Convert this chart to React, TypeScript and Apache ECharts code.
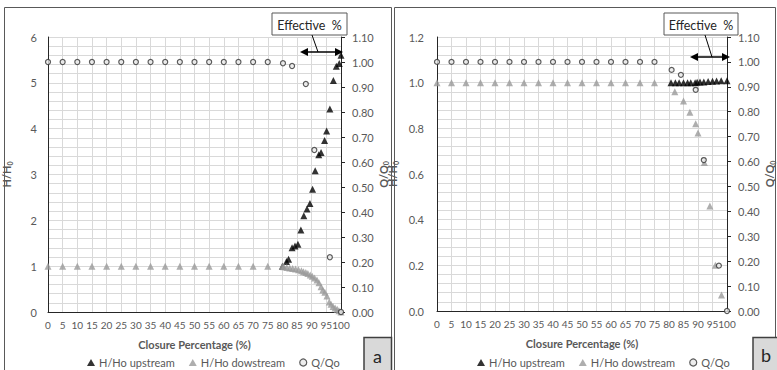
import React, { useEffect, useRef } from "react";
import * as echarts from "echarts";

// Shared fully-open closure values (0..75 %)
const baseClosure = [0, 5, 10, 15, 20, 25, 30, 35, 40, 45, 50, 55, 60, 65, 70, 75];
const baseOne = [1, 1, 1, 1, 1, 1, 1, 1, 1, 1, 1, 1, 1, 1, 1, 1];

// Panel a
const aUpX = [80, 81.4, 82.1, 83.3, 84.3, 85.3, 86.3, 87.3, 88.4, 89.4, 90.3, 91.2, 92.4, 93.2, 94.4, 95.1, 96.2, 97.4, 98.4, 99.4, 100];
const aUpY = [1.0, 1.1, 1.15, 1.4, 1.44, 1.48, 1.79, 2.1, 2.25, 2.37, 2.68, 3.08, 3.43, 3.48, 3.74, 3.95, 4.43, 5.05, 5.36, 5.42, 5.6];
const aDownX = [80, 80.5, 81.5, 82.5, 83.5, 84.5, 85.5, 86.5, 87.2, 88, 88.7, 89.5, 90.2, 91, 91.8, 92.5, 93.2, 93.8, 94.5, 95.2, 96, 96.6, 97.3, 98, 98.7, 99.3, 100];
const aDownY = [1.0, 0.99, 0.97, 0.96, 0.95, 0.94, 0.92, 0.9, 0.88, 0.86, 0.84, 0.81, 0.78, 0.74, 0.7, 0.64, 0.55, 0.48, 0.43, 0.35, 0.22, 0.17, 0.12, 0.09, 0.06, 0.03, 0.0];
const aQX = [80.2, 83.3, 88.0, 90.9, 96.2, 100];
const aQY = [0.995, 0.984, 0.912, 0.648, 0.219, 0.0];

// Panel b
const bUpX = [80.7, 82.2, 83.5, 85, 86.4, 87.5, 89, 89.7, 90.7, 92, 93.5, 95, 96.4, 98, 100];
const bUpY = [1.0, 1.0, 1.0, 1.0, 1.0, 1.0, 1.0, 1.002, 1.003, 1.003, 1.005, 1.006, 1.007, 1.008, 1.008];
const bDownX = [82, 85, 87.2, 89.2, 90, 92.2, 94.1, 96, 98.1];
const bDownY = [0.96, 0.92, 0.87, 0.82, 0.78, 0.65, 0.46, 0.2, 0.07];
const bQX = [80.9, 84.1, 89.2, 92, 97.2, 100];
const bQY = [0.968, 0.948, 0.888, 0.606, 0.182, 0.0];

const seriesNames = ["H/Ho upstream", "H/Ho dowstream", "Q/Qo"];
const FONT = "Lato, 'Liberation Sans', sans-serif";
const TXT = "#595959";
const GRIDC = "#d9d9d9";
const AXC = "#262626";

const zip = (xs: number[], ys: number[]) => xs.map((x, i) => [x, ys[i]]);

export default function App() {
  const ref = useRef<HTMLDivElement>(null);
  useEffect(() => {
    if (!ref.current) return;
    const chart = echarts.init(ref.current, undefined, { renderer: "svg" });

    const xAxisBase = (gridIndex: number) => ({
      type: "value",
      gridIndex,
      min: 0,
      max: 100,
      interval: 5,
      name: "Closure Percentage (%)",
      nameLocation: "middle",
      nameGap: 27,
      nameTextStyle: { fontFamily: FONT, fontSize: 11, fontWeight: "bold", color: TXT },
      axisLine: { show: true, lineStyle: { color: AXC, width: 1 } },
      axisTick: { show: false },
      axisLabel: { fontFamily: FONT, fontSize: 10, color: TXT, margin: 8, showMaxLabel: true, showMinLabel: true },
      splitLine: { show: true, lineStyle: { color: GRIDC, width: 1 } },
    });

    const nameRich = {
      m: { fontFamily: FONT, fontSize: 11, fontWeight: "bold", color: TXT },
      s: { fontFamily: FONT, fontSize: 7, fontWeight: "bold", color: TXT, padding: [6, 0, 0, 0] },
    };

    const leftAxis = (gridIndex: number, max: number, interval: number, dec: number, gap: number, margin: number) => ({
      type: "value",
      gridIndex,
      position: "left",
      min: 0,
      max,
      interval,
      name: "{m|H/H}{s|0}",
      nameLocation: "middle",
      nameRotate: 90,
      nameGap: gap,
      nameTextStyle: { rich: nameRich },
      axisLine: { show: true, lineStyle: { color: AXC, width: 1 } },
      axisTick: { show: false },
      axisLabel: {
        fontFamily: FONT,
        fontSize: 11,
        color: TXT,
        margin,
        formatter: (v: number) => v.toFixed(dec),
      },
      splitLine: { show: true, lineStyle: { color: GRIDC, width: 1 } },
      minorTick: { show: false, splitNumber: 5 },
      minorSplitLine: { show: true, lineStyle: { color: GRIDC, width: 1 } },
    });

    const rightAxis = (gridIndex: number, gap: number) => ({
      type: "value",
      gridIndex,
      position: "right",
      min: 0,
      max: 1.1,
      interval: 0.1,
      name: "{m|Q/Q}{s|0}",
      nameLocation: "middle",
      nameRotate: 90,
      nameGap: gap,
      nameTextStyle: { rich: nameRich },
      axisLine: { show: true, lineStyle: { color: AXC, width: 1 } },
      axisTick: { show: true, length: 4, inside: false, lineStyle: { color: AXC } },
      axisLabel: {
        fontFamily: FONT,
        fontSize: 11,
        color: TXT,
        margin: 11,
        formatter: (v: number) => v.toFixed(2),
      },
      splitLine: { show: false },
    });

    const up = (xi: number, yi: number, data: number[][]) => ({
      name: seriesNames[0],
      type: "scatter",
      xAxisIndex: xi,
      yAxisIndex: yi,
      symbol: "triangle",
      symbolSize: 7,
      itemStyle: { color: "#000000" },
      data,
    });
    const down = (xi: number, yi: number, data: number[][]) => ({
      name: seriesNames[1],
      type: "scatter",
      xAxisIndex: xi,
      yAxisIndex: yi,
      symbol: "triangle",
      symbolSize: 7,
      itemStyle: { color: "#9a9a9a" },
      data,
    });
    const q = (xi: number, yi: number, data: number[][]) => ({
      name: seriesNames[2],
      type: "scatter",
      xAxisIndex: xi,
      yAxisIndex: yi,
      symbol: "circle",
      symbolSize: 5,
      itemStyle: { color: "#e8e8e8", borderColor: "#333333", borderWidth: 1.2 },
      data,
    });

    const legendBase = (left: number) => ({
      left,
      top: 352,
      itemWidth: 8,
      itemHeight: 7,
      itemGap: 14,
      textStyle: { fontFamily: FONT, fontSize: 11, color: TXT, padding: [0, 0, 0, -1] },
      data: [
        { name: seriesNames[0], icon: "triangle", itemStyle: { color: "#000000" } },
        { name: seriesNames[1], icon: "triangle", itemStyle: { color: "#9a9a9a" } },
        { name: seriesNames[2], icon: "circle", itemStyle: { color: "#e8e8e8", borderColor: "#333333", borderWidth: 1.2 } },
      ],
      selectedMode: false,
    });

    const textStyle = (size: number) => ({ fontFamily: FONT, fontSize: size, fill: "#262626" });

    const effective = (bx: number, by: number, bw: number, bh: number, c1: number[], c2: number[], ax1: number, ax2: number, ay: number) => [
      { type: "rect", shape: { x: bx, y: by, width: bw, height: bh }, style: { fill: "#ffffff", stroke: "#595959", lineWidth: 1 }, z: 100 },
      { type: "text", x: bx + bw / 2, y: by + bh / 2 + 1, style: { text: "Effective  %", align: "center", verticalAlign: "middle", ...textStyle(12.5) }, z: 101 },
      { type: "line", shape: { x1: c1[0], y1: c1[1], x2: c2[0], y2: c2[1] }, style: { stroke: "#000000", lineWidth: 1 }, z: 100 },
      { type: "line", shape: { x1: ax1 + 5, y1: ay, x2: ax2 - 5, y2: ay }, style: { stroke: "#000000", lineWidth: 1.5 }, z: 100 },
      { type: "polygon", shape: { points: [[ax1, ay], [ax1 + 8, ay - 4], [ax1 + 8, ay + 4]] }, style: { fill: "#000000" }, z: 100 },
      { type: "polygon", shape: { points: [[ax2, ay], [ax2 - 8, ay - 4], [ax2 - 8, ay + 4]] }, style: { fill: "#000000" }, z: 100 },
    ];

    const option = {
      animation: false,
      backgroundColor: "#ffffff",
      grid: [
        { left: 48, top: 37, width: 293, height: 275 },
        { left: 437, top: 37, width: 293, height: 274 },
      ],
      xAxis: [xAxisBase(0), xAxisBase(1)],
      yAxis: [
        leftAxis(0, 6, 1, 0, 35, 11),
        rightAxis(0, 33),
        leftAxis(1, 1.2, 0.2, 1, 38, 13),
        rightAxis(1, 36),
      ],
      legend: [legendBase(82), legendBase(472)],
      series: [
        up(0, 0, zip(aUpX, aUpY)),
        down(0, 0, zip(baseClosure, baseOne).concat(zip(aDownX, aDownY))),
        q(0, 1, zip(baseClosure, baseOne).concat(zip(aQX, aQY))),
        up(1, 2, zip(bUpX, bUpY)),
        down(1, 2, zip(baseClosure, baseOne).concat(zip(bDownX, bDownY))),
        q(1, 3, zip(baseClosure, baseOne).concat(zip(bQX, bQY))),
      ],
      graphic: [
        { type: "rect", shape: { x: 4.5, y: 7.5, width: 387, height: 372 }, style: { fill: "none", stroke: "#595959", lineWidth: 1 }, z: 90 },
        { type: "rect", shape: { x: 394.5, y: 7.5, width: 381, height: 372 }, style: { fill: "none", stroke: "#595959", lineWidth: 1 }, z: 90 },
        ...effective(272, 13, 75, 22, [312, 35], [318, 52], 300, 343, 52),
        ...effective(664, 13, 74, 22, [705, 35], [712, 57], 690, 730, 57),
        { type: "rect", shape: { x: 364, y: 337.5, width: 27.5, height: 40 }, style: { fill: "#d9d9d9", stroke: "#404040", lineWidth: 1.5 }, z: 100 },
        { type: "text", x: 377.5, y: 356, style: { text: "a", align: "center", verticalAlign: "middle", fontFamily: FONT, fontSize: 18, fill: "#262626" }, z: 101 },
        { type: "rect", shape: { x: 753, y: 337.5, width: 30, height: 40 }, style: { fill: "#d9d9d9", stroke: "#404040", lineWidth: 1.5 }, z: 100 },
        { type: "text", x: 766, y: 355, style: { text: "b", align: "center", verticalAlign: "middle", fontFamily: FONT, fontSize: 18, fill: "#262626" }, z: 101 },
      ],
    };

    chart.setOption(option as any);
    return () => chart.dispose();
  }, []);

  return (
    <div
      ref={ref}
      style={{ position: "fixed", left: 0, top: 0, width: 777, height: 370, background: "#ffffff" }}
    />
  );
}
